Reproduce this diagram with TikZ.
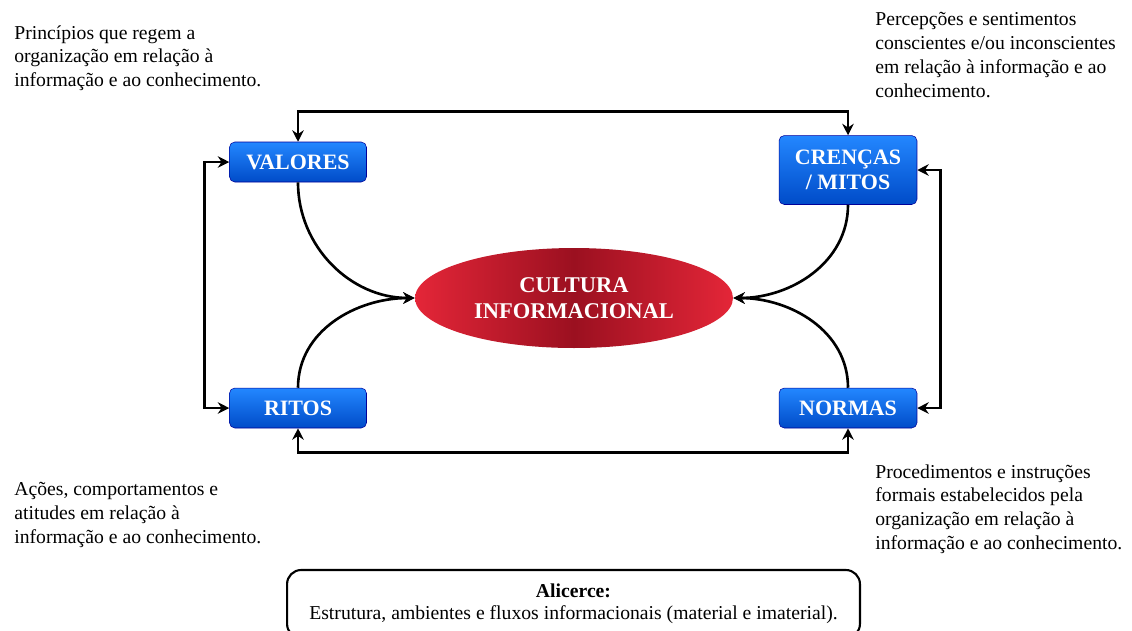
\documentclass[tikz,border=0pt]{standalone}
\usepackage{fontspec}
\setmainfont{Liberation Serif}
\usetikzlibrary{arrows.meta, positioning, calc, shapes.geometric}

\begin{document}
\begin{tikzpicture}[x=0.02cm, y=-0.02cm,
  box/.style={rounded corners=3pt, draw=blue!60!black, line width=0.3pt,
    top color={rgb,255:red,35;green,135;blue,255}, bottom color={rgb,255:red,0;green,75;blue,200},
    text=white, font=\fontsize{12.5}{14}\selectfont\bfseries, align=center, inner sep=0pt},
  core/.style={ellipse, minimum width=6.36cm, minimum height=2cm, inner sep=0pt,
    left color={rgb,255:red,228;green,38;blue,56}, right color={rgb,255:red,228;green,38;blue,56},
    middle color={rgb,255:red,155;green,16;blue,32},
    text=white, font=\fontsize{12.8}{15}\selectfont\bfseries, align=center},
  note/.style={font=\fontsize{11.2}{13.6}\selectfont, align=left, inner sep=0pt},
  link/.style={line width=1.5pt, {Stealth[length=6.5pt,width=6.5pt]}-{Stealth[length=6.5pt,width=6.5pt]}},
  feed/.style={line width=1.5pt, -{Stealth[length=6.5pt,width=6.5pt]}}]
% Page frame (the bottom box is cut off in the reference)
\clip (0,0) rectangle (1132,630);
\useasboundingbox (0,0) rectangle (1132,630);
% Central node and the four elements
\node[core] (cultura) at (574,298) {CULTURA\\INFORMACIONAL};
\node[box, minimum width=2.74cm, minimum height=0.8cm] (valores) at (298,162) {VALORES};
\node[box, minimum width=2.76cm, minimum height=1.38cm] (crencas) at (848,170) {CRENÇAS\\/ MITOS};
\node[box, minimum width=2.74cm, minimum height=0.8cm] (ritos) at (298,408) {RITOS};
\node[box, minimum width=2.76cm, minimum height=0.8cm] (normas) at (848,408) {NORMAS};
% Outer ring between the elements
\draw[link] (valores.north) -- ++(0,-30) -| (crencas.north);
\draw[link] (valores.west) -- ++(-25,0) |- (ritos.west);
\draw[link] (crencas.east) -- ++(23,0) |- (normas.east);
\draw[link] (ritos.south) -- ++(0,24) -| (normas.south);
% Curves into the centre
\draw[feed] (valores.south) to[out=-90, in=180] (cultura.west);
\draw[feed] (ritos.north) to[out=90, in=180] (cultura.west);
\draw[feed] (crencas.south) to[out=-90, in=0] (cultura.east);
\draw[feed] (normas.north) to[out=90, in=0] (cultura.east);
% Descriptions
\node[note, anchor=north west] (txtvalores) at (14,25) {Princípios que regem a\\organização em relação à\\informação e ao conhecimento.};
\node[note, anchor=north west] (txtcrencas) at (875,12) {Percepções e sentimentos\\conscientes e/ou inconscientes\\em relação à informação e ao\\conhecimento.};
\node[note, anchor=north west] (txtritos) at (14,482) {Ações, comportamentos e\\atitudes em relação à\\informação e ao conhecimento.};
\node[note, anchor=north west] (txtnormas) at (875,464) {Procedimentos e instruções\\formais estabelecidos pela\\organização em relação à\\informação e ao conhecimento.};
% Foundation
\node[draw, line width=1.2pt, rounded corners=8pt, minimum width=11.46cm, minimum height=1.36cm,
  align=center, font=\fontsize{11.2}{12.5}\selectfont] (alicerce) at (573.5,604)
  {\textbf{Alicerce:}\\Estrutura, ambientes e fluxos informacionais (material e imaterial).};
\end{tikzpicture}
\end{document}
